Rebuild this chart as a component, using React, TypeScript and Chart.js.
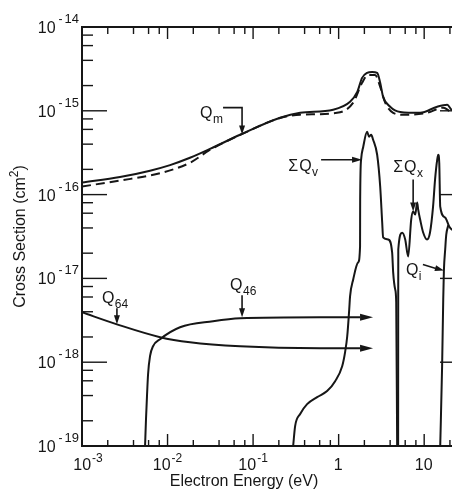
import React, { useEffect, useRef } from "react";
import { Chart, registerables } from "chart.js";

Chart.register(...registerables);

// ---------- axis ranges & ticks ----------
const X_MIN = 1e-3;
const X_MAX = 30;
const Y_MIN = 1e-19;
const Y_MAX = 1e-14;

const xTickValues = [1e-3, 1e-2, 1e-1, 1, 10];
const xTickBase = ["10", "10", "10", "1", "10"];
const xTickExp = ["-3", "-2", "-1", "", ""];
const yTickValues = [1e-19, 1e-18, 1e-17, 1e-16, 1e-15, 1e-14];
const yTickExp = ["19", "18", "17", "16", "15", "14"];
const minorMultipliers = [2, 4, 6, 8];

// ---------- series (energy eV, cross section cm^2) ----------
const qmE = [0.001, 0.00278, 0.00624, 0.0107, 0.0183, 0.0318, 0.0705, 0.207, 0.355, 0.863, 1.36, 1.65, 1.88, 2.15, 2.46, 2.82, 3.06, 3.31, 4.0, 5.24, 8.97, 14.2, 18.6, 21, 30];
const qmQ = [1.39e-16, 1.62e-16, 1.93e-16, 2.25e-16, 2.75e-16, 3.53e-16, 5.18e-16, 8.26e-16, 9.46e-16, 1.03e-15, 1.28e-15, 1.68e-15, 2.47e-15, 2.83e-15, 2.91e-15, 2.83e-15, 2.16e-15, 1.47e-15, 1.12e-15, 9.7e-16, 9.46e-16, 1.12e-15, 1.18e-15, 1.03e-15, 1.0e-15];

const qmDashE = [0.001, 0.00278, 0.00818, 0.0183, 0.0318, 0.0705, 0.207, 0.355, 0.96, 1.48, 1.88, 2.21, 2.67, 3.06, 3.5, 4.34, 5.68, 10.8, 16.7, 21, 30];
const qmDashQ = [1.25e-16, 1.47e-16, 1.8e-16, 2.4e-16, 3.45e-16, 5.15e-16, 8.2e-16, 9.0e-16, 9.46e-16, 1.25e-15, 2.16e-15, 2.68e-15, 2.68e-15, 1.93e-15, 1.25e-15, 9.46e-16, 8.96e-16, 9.46e-16, 1.09e-15, 9.7e-16, 9.5e-16];

const q64E = [0.001, 0.00256, 0.00818, 0.0183, 0.0705, 0.608, 1.78];
const q64Q = [3.94e-18, 2.83e-18, 1.99e-18, 1.73e-18, 1.55e-18, 1.47e-18, 1.47e-18];

const q46E = [0.00546, 0.0056, 0.00575, 0.00592, 0.00624, 0.00677, 0.00818, 0.014, 0.034, 0.0705, 0.608, 1.78];
const q46Q = [1e-19, 2.1e-19, 3.94e-19, 7.19e-19, 1.18e-18, 1.55e-18, 1.88e-18, 2.61e-18, 3.08e-18, 3.34e-18, 3.43e-18, 3.43e-18];

const sqvE = [0.294, 0.31, 0.355, 0.428, 0.561, 0.733, 0.91, 1.1, 1.19, 1.26, 1.33, 1.36, 1.48, 1.69, 1.78, 1.785, 1.83, 1.94, 2.15, 2.27, 2.4, 2.53, 2.82, 3.06, 3.23, 3.31, 3.79, 4.22, 4.34, 4.58, 4.71, 4.83];
const sqvQ = [1e-19, 1.73e-19, 2.41e-19, 3.16e-19, 3.83e-19, 4.52e-19, 5.94e-19, 8.96e-19, 1.32e-18, 2.04e-18, 4.28e-18, 6.11e-18, 9.72e-18, 1.55e-17, 2.4e-17, 8.7e-17, 2.61e-16, 3.73e-16, 5.62e-16, 4.9e-16, 5.18e-16, 4.52e-16, 2.99e-16, 1.25e-16, 4.64e-17, 3.08e-17, 2.91e-17, 2.04e-17, 1.18e-17, 7.39e-18, 5.18e-18, 1e-19];

const sqxE = [4.96, 4.97, 4.98, 5.53, 6.0, 6.5, 7.05, 7.43, 7.85, 8.28, 8.51, 8.97, 9.73, 10.8, 11.7, 12.7, 13.4, 14.2, 14.6, 15.0, 15.4, 17.6, 19.6, 21, 30];
const sqxQ = [1e-19, 5.62e-18, 2.21e-17, 3.5e-17, 2.91e-17, 1.83e-17, 5.04e-17, 6.28e-17, 5.78e-17, 8.04e-17, 6.62e-17, 5.04e-17, 3.53e-17, 2.91e-17, 3.53e-17, 7.19e-17, 1.51e-16, 2.61e-16, 2.99e-16, 2.4e-16, 7.19e-17, 5.32e-17, 4.16e-17, 3.83e-17, 3.3e-17];

const qiE = [15.4, 16.2, 16.7, 17.0, 17.6, 18.1, 19.1];
const qiQ = [1e-19, 8.96e-19, 5.62e-18, 1.24e-17, 2.21e-17, 3.3e-17, 4.3e-17];

// annotation arrow tips (data coords)
const labelNames = ["Qm", "Q64", "Q46", "ΣQv", "ΣQx", "Qi"];
const labelTipE = [0.0743, 0.00256, 0.0743, 1.88, 7.43, 17.0];
const labelTipQ = [5.2e-16, 2.83e-18, 3.43e-18, 2.61e-16, 6.28e-17, 1.24e-17];

const xTitle = "Electron Energy (eV)";
const yTitleMain = "Cross Section (cm";
const yTitleSup = "2";

const INK = "#161616";
const FONT = "'Liberation Sans', Arial, sans-serif";
const FONT_NUM = "'Liberation Sans Narrow', 'Liberation Sans', Arial, sans-serif";

type Run = { t: string; size: number; dy?: number; gap?: number; fam?: string };

function runsWidth(ctx: CanvasRenderingContext2D, runs: Run[]) {
  let w = 0;
  for (const r of runs) {
    ctx.font = `${r.size}px ${r.fam || FONT}`;
    w += ctx.measureText(r.t).width + (r.gap || 0);
  }
  return w;
}

function drawRuns(ctx: CanvasRenderingContext2D, runs: Run[], x: number, y: number, align: "left" | "center" | "right") {
  const w = runsWidth(ctx, runs);
  let cx = align === "left" ? x : align === "center" ? x - w / 2 : x - w;
  ctx.textAlign = "left";
  ctx.textBaseline = "alphabetic";
  for (const r of runs) {
    ctx.font = `${r.size}px ${r.fam || FONT}`;
    ctx.fillText(r.t, cx, y + (r.dy || 0));
    cx += ctx.measureText(r.t).width + (r.gap || 0);
  }
}

function line(ctx: CanvasRenderingContext2D, x1: number, y1: number, x2: number, y2: number) {
  ctx.beginPath();
  ctx.moveTo(x1, y1);
  ctx.lineTo(x2, y2);
  ctx.stroke();
}

function arrowHead(ctx: CanvasRenderingContext2D, fx: number, fy: number, tx: number, ty: number, len: number, half: number) {
  const a = Math.atan2(ty - fy, tx - fx);
  const bx = tx - Math.cos(a) * len;
  const by = ty - Math.sin(a) * len;
  const nx = -Math.sin(a) * half;
  const ny = Math.cos(a) * half;
  ctx.beginPath();
  ctx.moveTo(tx, ty);
  ctx.lineTo(bx + nx, by + ny);
  ctx.lineTo(bx - nx, by - ny);
  ctx.closePath();
  ctx.fill();
}

function labelRuns(name: string): Run[] {
  const hasSigma = name.startsWith("Σ");
  const core = hasSigma ? name.slice(1) : name;
  const runs: Run[] = [];
  if (hasSigma) runs.push({ t: "Σ", size: 16, gap: 1 });
  runs.push({ t: core[0], size: 16, gap: 0.5 });
  runs.push({ t: core.slice(1), size: 12, dy: 5 });
  return runs;
}

const decorPlugin = {
  id: "decor",
  afterDraw(chart: any) {
    const ctx: CanvasRenderingContext2D = chart.ctx;
    const { left, right, top, bottom } = chart.chartArea;
    const xs = chart.scales.x;
    const ys = chart.scales.y;
    ctx.save();
    ctx.strokeStyle = INK;
    ctx.fillStyle = INK;

    // frame
    ctx.lineWidth = 2;
    ctx.strokeRect(left, top, right - left, bottom - top);

    // ticks
    ctx.lineWidth = 1.4;
    for (let d = -3; d <= 1; d++) {
      for (const m of [1, ...minorMultipliers]) {
        const v = m * Math.pow(10, d);
        if (v < X_MIN * 0.999 || v > X_MAX) continue;
        const px = xs.getPixelForValue(v);
        const len = m === 1 ? 12 : 6;
        line(ctx, px, bottom, px, bottom - len);
        line(ctx, px, top, px, top + (m === 1 ? 12 : 7));
      }
    }
    for (let d = -19; d <= -15; d++) {
      for (const m of [1, ...minorMultipliers]) {
        const v = m * Math.pow(10, d);
        const py = ys.getPixelForValue(v);
        const len = m === 1 ? 25 : 11;
        line(ctx, left, py, left + len, py);
        line(ctx, right, py, right - len, py);
      }
    }

    // tick labels
    ctx.fillStyle = INK;
    xTickValues.forEach((v, i) => {
      const px = xs.getPixelForValue(v);
      const runs: Run[] = [{ t: xTickBase[i], size: 16, fam: FONT_NUM, gap: 1 }];
      if (xTickExp[i]) runs.push({ t: xTickExp[i], size: 12, dy: -8, fam: FONT_NUM });
      drawRuns(ctx, runs, px + (i === 0 ? 6 : 0), 470, "center");
    });
    yTickValues.forEach((v, i) => {
      const py = ys.getPixelForValue(v);
      const runs: Run[] = [
        { t: "10", size: 16, fam: FONT_NUM, gap: 3 },
        { t: "-", size: 12, dy: -10, fam: FONT_NUM, gap: 2 },
        { t: yTickExp[i], size: 13, dy: -10, fam: FONT_NUM },
      ];
      drawRuns(ctx, runs, left - 3, py + 6, "right");
    });

    // axis titles
    drawRuns(ctx, [{ t: xTitle, size: 16 }], 244, 486, "center");
    ctx.save();
    ctx.translate(25, (top + bottom) / 2);
    ctx.rotate(-Math.PI / 2);
    drawRuns(ctx, [{ t: yTitleMain, size: 16 }, { t: yTitleSup, size: 12, dy: -7 }, { t: ")", size: 16 }], 0, 0, "center");
    ctx.restore();

    // annotations
    ctx.lineWidth = 1.6;
    const tip = (i: number) => ({ x: xs.getPixelForValue(labelTipE[i]), y: ys.getPixelForValue(labelTipQ[i]) });
    // Qm
    {
      const t = tip(0);
      drawRuns(ctx, labelRuns(labelNames[0]), t.x - 42, t.y - 17, "left");
      ctx.beginPath();
      ctx.moveTo(t.x - 19, t.y - 27);
      ctx.lineTo(t.x, t.y - 27);
      ctx.lineTo(t.x, t.y - 8);
      ctx.stroke();
      arrowHead(ctx, t.x, t.y - 27, t.x, t.y, 9, 3);
    }
    // Q64
    {
      const t = tip(1);
      drawRuns(ctx, labelRuns(labelNames[1]), t.x - 15, t.y - 21, "left");
      line(ctx, t.x, t.y - 16, t.x, t.y - 8);
      arrowHead(ctx, t.x, t.y - 16, t.x, t.y, 9, 3);
    }
    // Q46
    {
      const t = tip(2);
      drawRuns(ctx, labelRuns(labelNames[2]), t.x - 12, t.y - 27, "left");
      line(ctx, t.x, t.y - 22, t.x, t.y - 8);
      arrowHead(ctx, t.x, t.y - 22, t.x, t.y, 9, 3);
    }
    // ΣQv
    {
      const t = tip(3);
      drawRuns(ctx, labelRuns(labelNames[3]), t.x - 44, t.y + 11, "right");
      line(ctx, t.x - 41, t.y, t.x - 9, t.y);
      arrowHead(ctx, t.x - 41, t.y, t.x, t.y, 10, 3);
    }
    // ΣQx
    {
      const t = tip(4);
      drawRuns(ctx, labelRuns(labelNames[4]), t.x - 20, t.y - 40, "left");
      line(ctx, t.x, t.y - 32, t.x, t.y - 8);
      arrowHead(ctx, t.x, t.y - 32, t.x, t.y, 9, 3);
    }
    // Qi
    {
      const t = tip(5);
      drawRuns(ctx, labelRuns(labelNames[5]), t.x - 38, t.y + 4, "left");
      line(ctx, t.x - 21, t.y - 6, t.x - 8, t.y - 2);
      arrowHead(ctx, t.x - 21, t.y - 6, t.x, t.y, 9, 3);
    }

    // arrow heads at the ends of Q46 and Q64
    for (const [es, qs] of [[q46E, q46Q], [q64E, q64Q]] as number[][][]) {
      const n = es.length - 1;
      const px = xs.getPixelForValue(es[n]);
      const py = ys.getPixelForValue(qs[n]);
      arrowHead(ctx, px, py, px + 13, py, 13, 3.5);
    }
    ctx.restore();
  },
};

function pts(es: number[], qs: number[]) {
  return es.map((e, i) => ({ x: e, y: qs[i] }));
}

export default function App() {
  const ref = useRef<HTMLCanvasElement | null>(null);
  useEffect(() => {
    if (!ref.current) return;
    const common = { showLine: true, pointRadius: 0, borderColor: INK, borderWidth: 2, fill: false, cubicInterpolationMode: "monotone" };
    const chart = new Chart(ref.current, {
      type: "scatter",
      data: {
        datasets: [
          { ...common, label: "Qm", data: pts(qmE, qmQ) },
          { ...common, label: "Qm (dashed)", data: pts(qmDashE, qmDashQ), borderDash: [9, 5] },
          { ...common, label: "Q64", data: pts(q64E, q64Q) },
          { ...common, label: "Q46", data: pts(q46E, q46Q) },
          { ...common, label: "ΣQv", data: pts(sqvE, sqvQ) },
          { ...common, label: "ΣQx", data: pts(sqxE, sqxQ) },
          { ...common, label: "Qi", data: pts(qiE, qiQ) },
        ] as any,
      },
      options: {
        animation: false,
        responsive: false,
        maintainAspectRatio: false,
        layout: { padding: { left: 0, top: 27, right: 15, bottom: 0 } },
        plugins: { legend: { display: false }, tooltip: { enabled: false } },
        events: [],
        scales: {
          x: {
            type: "logarithmic",
            min: X_MIN,
            max: X_MAX,
            grid: { display: false, drawTicks: false },
            border: { display: false },
            ticks: { display: false },
            afterFit: (s: any) => {
              s.height = 45;
            },
          },
          y: {
            type: "logarithmic",
            min: Y_MIN,
            max: Y_MAX,
            grid: { display: false, drawTicks: false },
            border: { display: false },
            ticks: { display: false },
            afterFit: (s: any) => {
              s.width = 82;
            },
          },
        },
      } as any,
      plugins: [decorPlugin],
    });
    return () => chart.destroy();
  }, []);
  return (
    <div style={{ position: "fixed", left: 0, top: 0, width: 452, height: 491, overflow: "hidden", background: "#fff" }}>
      <canvas ref={ref} width={480} height={491} style={{ display: "block", width: 480, height: 491 }} />
    </div>
  );
}
